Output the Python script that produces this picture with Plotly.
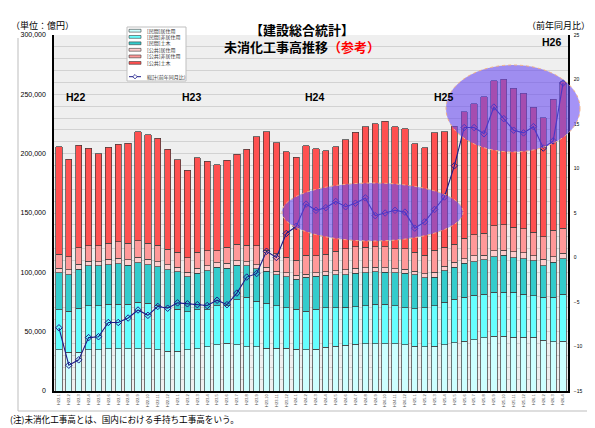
import plotly.graph_objects as go

# ---------------- data ----------------
months = [f"H{y}.{m}" for y in range(22, 27) for m in range(1, 13)][:52]

min_res = [34600, 32600, 32600, 34600, 34600, 35400, 35400, 35400, 35400, 35400,
           34600, 33700, 33500, 34600, 35400, 37100, 39000, 40400, 39000, 37300,
           37300, 36000, 36000, 36000, 35200, 34800, 35100, 36800, 37900, 38500,
           39600, 39900, 39900, 39900, 39900, 39000, 37900, 37300, 37700, 39000,
           40700, 41900, 43000, 44700, 46100, 46100, 45500, 45300, 45300, 42700,
           41500, 42100]
min_nonres = [33700, 34600, 37100, 37100, 37100, 37900, 37900, 37900, 39400, 38500,
              37300, 36500, 35600, 32000, 32900, 31200, 32900, 31400, 37700, 41600,
              38300, 37900, 35900, 34200, 33600, 32400, 34000, 33400, 32300, 32000,
              31400, 32000, 33200, 33200, 32000, 31200, 31400, 32900, 34200, 35700,
              36800, 37300, 37900, 36800, 37100, 37100, 37700, 36200, 34800, 36200,
              37400, 39400]
min_civil = [31400, 30600, 32900, 33700, 33700, 33100, 34000, 32600, 33400, 32500,
             32900, 31800, 31200, 29700, 30900, 33100, 32400, 31800, 29200, 26600,
             27500, 27000, 25900, 26100, 25300, 28700, 27800, 27300, 27600, 27500,
             28100, 27800, 27200, 27000, 27800, 29000, 28700, 25400, 23900, 26600,
             26700, 28400, 28100, 28900, 30000, 31400, 29200, 30000, 29500, 26600,
             29700, 30000]
pub_res = [3700, 4200, 4200, 4000, 3600, 4600, 4600, 4500, 4600, 4600,
           4200, 4200, 4000, 3700, 4200, 4000, 3600, 4000, 3900, 3400,
           3400, 3400, 3100, 3400, 3600, 2500, 2800, 2800, 3400, 4000,
           4200, 4000, 4000, 3600, 3400, 3400, 3100, 3100, 4200, 4000,
           4200, 3900, 4800, 4200, 4800, 4200, 4800, 5100, 4500, 5400,
           4500, 4600]
pub_nonres = [11800, 11200, 14000, 12900, 13200, 13500, 13700, 14100, 13700, 13500,
              13800, 13200, 12600, 12300, 13500, 12600, 10400, 13500, 13800, 14100,
              15800, 14300, 14600, 13000, 12600, 16000, 14100, 14900, 16600, 17700,
              18200, 17400, 17400, 17900, 16900, 17400, 15800, 15800, 18800, 15800,
              15400, 17200, 17700, 18300, 21100, 21100, 20800, 20000, 19700, 19000,
              22500, 21100]
pub_civil = [90700, 82300, 86500, 82300, 77800, 80900, 82300, 84300, 91900, 91300,
             90400, 84300, 77800, 73700, 79500, 75600, 72200, 73300, 75900, 80600,
             91900, 99700, 93800, 89000, 86500, 92400, 90200, 87100, 87900, 91900,
             96700, 101400, 103400, 105900, 102600, 100900, 91300, 90600, 98800, 97200,
             99200, 106700, 110600, 115100, 122400, 123000, 117100, 114400, 105300, 100300,
             110400, 123500]
yoy = [-7.9, -12.1, -11.5, -9.0, -8.9, -7.3, -7.3, -6.8, -5.9, -6.5,
       -5.5, -5.7, -5.1, -5.2, -5.3, -5.4, -4.8, -5.3, -4.0, -2.2,
       -1.8, 0.7, 0.0, 2.7, 3.5, 6.0, 5.3, 5.6, 6.3, 5.7,
       6.1, 6.7, 4.7, 5.0, 5.3, 5.1, 3.3, 4.0, 5.4, 6.8,
       10.3, 14.6, 14.6, 13.9, 16.9, 15.6, 14.3, 14.0, 14.7, 12.3,
       13.1, 19.6]

series_names = ["[民間]居住用", "[民間]非居住用", "[民間]土木",
                "[公共]居住用", "[公共]非居住用", "[公共]土木"]
series_vals = [min_res, min_nonres, min_civil, pub_res, pub_nonres, pub_civil]
series_colors = ["#ccffff", "#66ffff", "#33cccc", "#ffcccc", "#ff9999", "#ff5050"]
line_name = "総計(前年同月比)"
period_labels = ["H22", "H23", "H24", "H25", "H26"]

# ---------------- figure ----------------
# the page body has an 8px margin, so the figure is 8px smaller and all
# reference-pixel positions are shifted by that offset
OFF = 8
W, H = 595 - OFF, 428 - OFF
L, R, T, B = 54, 568, 35, 391   # plot area in reference pixels


def P(x, y):
    return (x - L) / (R - L), (B - y) / (B - T)


fig = go.Figure()
for name, vals, col in zip(series_names, series_vals, series_colors):
    fig.add_trace(go.Bar(x=months, y=vals, name=name, marker_color=col,
                         marker_line_color="#3a3a3a", marker_line_width=0.7,
                         showlegend=False))
fig.add_trace(go.Scatter(x=months, y=yoy, name=line_name, yaxis="y2",
                         mode="lines+markers",
                         line=dict(color="#1c1c8a", width=1.1),
                         marker=dict(symbol="diamond-open", size=5,
                                     color="#1c1c8a", line=dict(width=1)),
                         showlegend=False))

shapes = []
annotations = []

# outer frame (left, bottom, right)
for (x0, y0, x1, y1) in [(18, 38, 18, 411), (18, 411, 588, 411), (588, 28, 588, 411)]:
    a0 = P(x0, y0); a1 = P(x1, y1)
    shapes.append(dict(type="line", xref="paper", yref="paper", x0=a0[0], y0=a0[1],
                       x1=a1[0], y1=a1[1], line=dict(color="#bdbdbd", width=1)))

# ellipses
for (x0, y0, x1, y1) in [(282, 183, 463, 241), (446, 65, 580, 152)]:
    a0 = P(x0, y0); a1 = P(x1, y1)
    shapes.append(dict(type="circle", xref="paper", yref="paper", layer="above",
                       x0=a0[0], y0=a1[1], x1=a1[0], y1=a0[1],
                       fillcolor="rgba(105,75,240,0.6)",
                       line=dict(color="#f4b183", width=1, dash="dot")))

# custom legend
bx0, by0 = P(127, 27); bx1, by1 = P(186, 81)
shapes.append(dict(type="rect", xref="paper", yref="paper", x0=bx0, y0=by1, x1=bx1, y1=by0,
                   fillcolor="white", line=dict(color="#bfbfbf", width=1), layer="above"))
rows = [30.7, 36.9, 43.3, 49.8, 56.4, 62.9]
for name, col, ry in zip(series_names, series_colors, rows):
    s0 = P(129, ry - 1.4); s1 = P(141, ry + 1.4)
    shapes.append(dict(type="rect", xref="paper", yref="paper", x0=s0[0], y0=s1[1],
                       x1=s1[0], y1=s0[1], fillcolor=col, layer="above",
                       line=dict(color="#3a3a3a", width=0.6)))
    t = P(145, ry)
    annotations.append(dict(text=name, xref="paper", yref="paper", x=t[0], y=t[1],
                            xanchor="left", yanchor="middle", showarrow=False,
                            font=dict(size=5, color="#333", family="Noto Sans CJK JP")))
ly = 76.7
l0 = P(129, ly); l1 = P(141, ly)
shapes.append(dict(type="line", xref="paper", yref="paper", x0=l0[0], y0=l0[1],
                   x1=l1[0], y1=l1[1], line=dict(color="#1c1c8a", width=1), layer="above"))
dc = P(135, ly)
dx = 2.2 / (R - L); dy = 2.2 / (B - T)
shapes.append(dict(type="path", xref="paper", yref="paper", layer="above",
                   path=f"M {dc[0]-dx},{dc[1]} L {dc[0]},{dc[1]+dy} L {dc[0]+dx},{dc[1]} L {dc[0]},{dc[1]-dy} Z",
                   fillcolor="white", line=dict(color="#1c1c8a", width=0.8)))
t = P(145, ly)
annotations.append(dict(text=line_name, xref="paper", yref="paper", x=t[0], y=t[1],
                        xanchor="left", yanchor="middle", showarrow=False,
                        font=dict(size=5, color="#333", family="Noto Sans CJK JP")))


def txt(text, x, y, size, anchor="center", color="black", bold=False, family="Noto Sans CJK JP"):
    p = P(x, y)
    annotations.append(dict(text=(f"<b>{text}</b>" if bold else text), xref="paper", yref="paper",
                            x=p[0], y=p[1], xanchor=anchor, yanchor="middle", showarrow=False,
                            font=dict(size=size, color=color, family=family)))


txt("【建設総合統計】", 302, 30, 13, bold=True)
txt("未消化工事高推移<span style='color:#ff0000'>（参考）</span>", 302, 46.5, 13, bold=True)
txt("（単位：億円）", 9, 25, 9, anchor="left")
txt("（前年同月比）", 592, 25, 9, anchor="right")
txt("(注)未消化工事高とは、国内における手持ち工事高をいう。", 8, 419, 8.6, anchor="left")

for lab, (x, y) in zip(period_labels, [(64, 97), (180, 97), (303, 97), (432, 97), (540, 42)]):
    txt(lab, x, y, 10.5, anchor="left", bold=True, family="Liberation Sans, Arial")

fig.update_layout(
    width=W, height=H, autosize=False,
    margin=dict(l=L - OFF, r=W - (R - OFF), t=T - OFF, b=H - (B - OFF), pad=0),
    paper_bgcolor="white", plot_bgcolor="#efefef",
    barmode="stack", bargap=0.36,
    font=dict(family="Liberation Sans, Arial", color="black"),
    xaxis=dict(type="category", tickangle=-90, tickfont=dict(size=4, color="#444"),
               showgrid=False, showline=True, linecolor="black", linewidth=1.5,
               ticks="", zeroline=False, range=[-0.5, len(months) - 0.5]),
    yaxis=dict(range=[0, 300000], tickvals=[0, 50000, 100000, 150000, 200000, 250000, 300000],
               tickformat=",", tickfont=dict(size=7), showgrid=True, gridcolor="#d2d2d2",
               gridwidth=1, minor=dict(dtick=10000, showgrid=True, gridcolor="#d2d2d2", gridwidth=1),
               showline=True, linecolor="black", linewidth=1.5, ticks="", zeroline=False,
               ticklabelstandoff=5),
    yaxis2=dict(range=[-15, 25], dtick=5, overlaying="y", side="right", showgrid=False,
                tickfont=dict(size=5), showline=True, linecolor="black", linewidth=1.5,
                ticks="", zeroline=False, ticklabelstandoff=3),
    shapes=shapes, annotations=annotations, showlegend=False,
)

fig.write_html("out.html")
